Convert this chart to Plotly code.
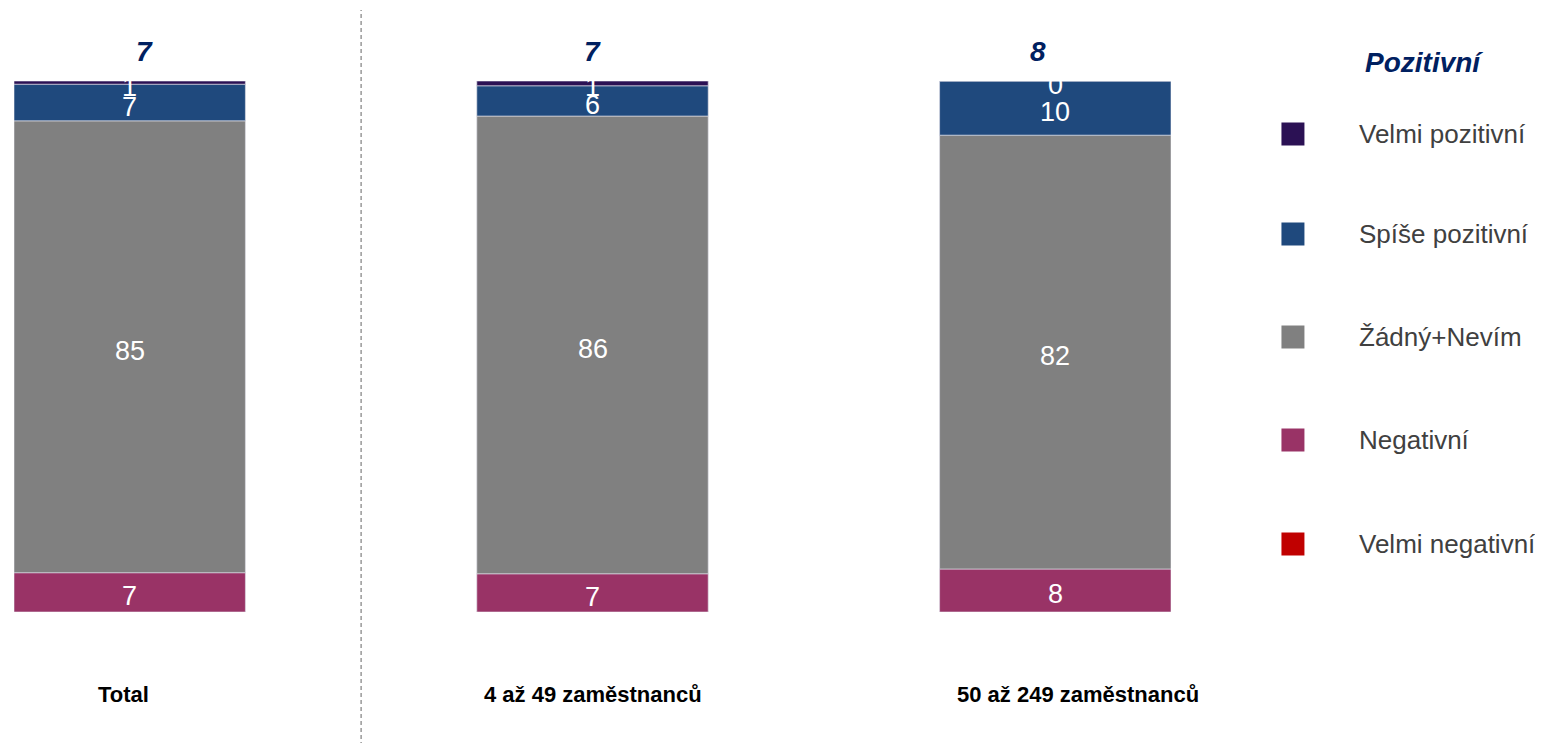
import numpy as np
import plotly.graph_objects as go

categories = ["Total", "4 až 49 zaměstnanců", "50 až 249 zaměstnanců"]
series_names = ["Velmi negativní", "Negativní", "Žádný+Nevím", "Spíše pozitivní", "Velmi pozitivní"]
velmi_negativni = [0.0, 0.0, 0.0]
negativni = [7.4, 7.2, 8.1]
zadny_nevim = [85.1, 86.2, 81.7]
spise_pozitivni = [6.9, 5.7, 10.2]
velmi_pozitivni = [0.6, 0.9, 0.0]
pozitivni_total = [7, 7, 8]

colors = {
    "Velmi negativní": "#C00000",
    "Negativní": "#993366",
    "Žádný+Nevím": "#808080",
    "Spíše pozitivní": "#1F497D",
    "Velmi pozitivní": "#2B1154",
}
values = [velmi_negativni, negativni, zadny_nevim, spise_pozitivni, velmi_pozitivni]
show_labels = [False, True, True, True, True]

OFF = 8  # page body margin
W, H = 1543 - OFF, 743 - OFF
L, R, T, B = 14 - OFF, 1171.5 - OFF, 81 - OFF, 612 - OFF
FONT = "Liberation Sans, Arial, sans-serif"

def pxx(px):
    return (px - OFF - L) / (R - L)

def pxy(py):
    return (B - (py - OFF)) / (B - T)

xpos = np.arange(len(categories))
fig = go.Figure()
annotations = []
cum = np.zeros(len(categories))
for name, vals, lab in zip(series_names, values, show_labels):
    v = np.array(vals)
    fig.add_trace(go.Bar(
        x=xpos, y=v, base=cum.copy(), name=name, width=0.5,
        marker=dict(color=colors[name], line=dict(color="rgba(220,220,230,0.8)", width=0.8)),
        showlegend=False, hoverinfo="skip",
    ))
    if lab:
        mids = cum + v / 2
        for xi, yi, vi in zip(xpos, mids, v):
            annotations.append(dict(x=xi, y=yi, xref="x", yref="y", text=f"{vi:.0f}",
                                    showarrow=False, yshift=-4, yanchor="middle",
                                    font=dict(color="white", size=27, family=FONT)))
    cum = cum + v

top_shift = [15, 0, -17]
cat_shift = [-6, 0, 23]
for i, cat in enumerate(categories):
    annotations.append(dict(x=xpos[i], y=pxy(51), xref="x", yref="paper", text=f"<b><i>{pozitivni_total[i]}</i></b>",
                            showarrow=False, xshift=top_shift[i], yanchor="middle",
                            font=dict(size=28, color="#002060", family=FONT)))
    annotations.append(dict(x=xpos[i], y=pxy(694), xref="x", yref="paper", text=f"<b>{cat}</b>",
                            showarrow=False, xshift=cat_shift[i], yanchor="middle",
                            font=dict(size=22, color="#000000", family=FONT)))

# custom legend
annotations.append(dict(x=pxx(1425), y=pxy(62), xref="paper", yref="paper", text="<b><i>Pozitivní</i></b>",
                        showarrow=False, yanchor="middle", xanchor="center",
                        font=dict(size=28, color="#002060", family=FONT)))
shapes = []
legend_order = ["Velmi pozitivní", "Spíše pozitivní", "Žádný+Nevím", "Negativní", "Velmi negativní"]
legend_y = [134, 234, 337, 440, 544]
for name, ly in zip(legend_order, legend_y):
    shapes.append(dict(type="rect", xref="paper", yref="paper",
                       x0=pxx(1282), x1=pxx(1305), y0=pxy(ly + 11.5), y1=pxy(ly - 11.5),
                       fillcolor=colors[name], line=dict(width=0)))
    annotations.append(dict(x=pxx(1358), y=pxy(ly), xref="paper", yref="paper", text=name,
                            xanchor="left", yanchor="middle", showarrow=False,
                            font=dict(size=26, color="#404040", family=FONT)))

shapes.append(dict(type="line", xref="x", yref="paper", x0=0.5, x1=0.5, y0=pxy(760), y1=pxy(10),
                   line=dict(color="#7F7F7F", width=1.2, dash="4px,3px")))

fig.update_layout(
    width=W, height=H,
    margin=dict(l=L, r=W - R, t=T, b=H - B, pad=0),
    barmode="overlay",
    plot_bgcolor="white", paper_bgcolor="white",
    xaxis=dict(range=[-0.25, 2.25], visible=False, fixedrange=True),
    yaxis=dict(range=[0, 100], visible=False, fixedrange=True),
    annotations=annotations, shapes=shapes,
    showlegend=False,
)
fig.write_html("out.html")
